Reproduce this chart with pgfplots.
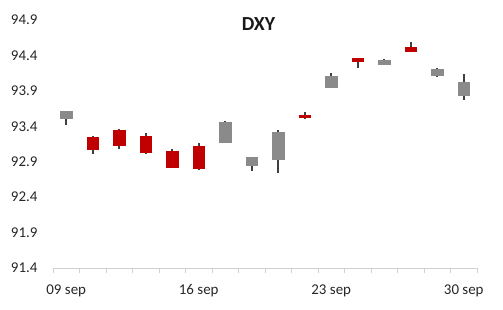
\documentclass[border=0pt]{standalone}
\usepackage{fontspec}
\setmainfont{Carlito}
\usepackage{pgfplots}
\usepackage{pgfplotstable}
\pgfplotsset{compat=1.18}
\definecolor{redc}{HTML}{C00000}
\definecolor{grayc}{HTML}{8A8A8A}
\definecolor{wick}{HTML}{404040}
\definecolor{axgray}{HTML}{D0D0D0}
\pgfplotstableread{
x low blo bhi high
0 93.422 93.507 93.616 93.616
6 93.168 93.168 93.461 93.475
7 92.773 92.844 92.967 92.967
8 92.745 92.928 93.319 93.348
10 93.945 93.945 94.110 94.152
12 94.269 94.269 94.335 94.350
14 94.096 94.114 94.208 94.223
15 93.775 93.832 94.025 94.138
}\graytab
\pgfplotstableread{
x low blo bhi high
1 93.013 93.065 93.249 93.263
2 93.079 93.126 93.348 93.355
3 93.013 93.027 93.263 93.305
4 92.810 92.816 93.051 93.079
5 92.783 92.801 93.122 93.164
9 93.503 93.521 93.559 93.602
11 94.227 94.307 94.364 94.370
13 94.453 94.453 94.519 94.590
}\redtab
\begin{document}
\begin{tikzpicture}
\path[use as bounding box] (0,0) rectangle (503bp,310bp);
\begin{axis}[
  at={(53bp,42bp)}, anchor=south west,
  scale only axis, width=424bp, height=248bp,
  xmin=-0.5, xmax=15.5, ymin=91.4, ymax=94.9,
  axis x line=bottom, axis y line=left,
  axis line style={-},
  x axis line style={draw=axgray, line width=0.8bp},
  y axis line style={draw=none},
  ytick={91.4,91.9,92.4,92.9,93.4,93.9,94.4,94.9},
  yticklabels={91.4,91.9,92.4,92.9,93.4,93.9,94.4,94.9},
  ytick style={draw=none},
  xtick={0,5,10,15},
  xticklabels={09 sep,16 sep,23 sep,30 sep},
  major tick length=0pt,
  minor xtick={-0.5,0.5,...,15.5},
  minor tick length=5bp,
  minor tick style={draw=axgray, line width=0.8bp},
  tick align=outside,
  ticklabel style={font=\fontsize{15}{18}\selectfont, text=black!85},
  yticklabel style={xshift=-12bp},
  xticklabel style={yshift=-13bp},
  clip=false,
  no markers,
]
\addplot[draw=none, no markers, forget plot,
  error bars/.cd, y dir=plus, y explicit, error mark=none,
  error bar style={draw=wick, line width=2bp}]
  table[x=x, y=low, y error expr=\thisrow{high}-\thisrow{low}] {\graytab};
\addplot[draw=none, no markers, forget plot,
  error bars/.cd, y dir=plus, y explicit, error mark=none,
  error bar style={draw=wick, line width=2bp}]
  table[x=x, y=low, y error expr=\thisrow{high}-\thisrow{low}] {\redtab};
\addplot[draw=none, no markers, forget plot,
  error bars/.cd, y dir=plus, y explicit, error mark=none,
  error bar style={draw=grayc, line width=12.5bp}]
  table[x=x, y=blo, y error expr=\thisrow{bhi}-\thisrow{blo}] {\graytab};
\addplot[draw=none, no markers, forget plot,
  error bars/.cd, y dir=plus, y explicit, error mark=none,
  error bar style={draw=redc, line width=12.5bp}]
  table[x=x, y=blo, y error expr=\thisrow{bhi}-\thisrow{blo}] {\redtab};
\node[font=\fontsize{20}{24}\selectfont\bfseries, text=black!90] at (rel axis cs:0.4847,0.982) {DXY};
\end{axis}
\end{tikzpicture}
\end{document}
